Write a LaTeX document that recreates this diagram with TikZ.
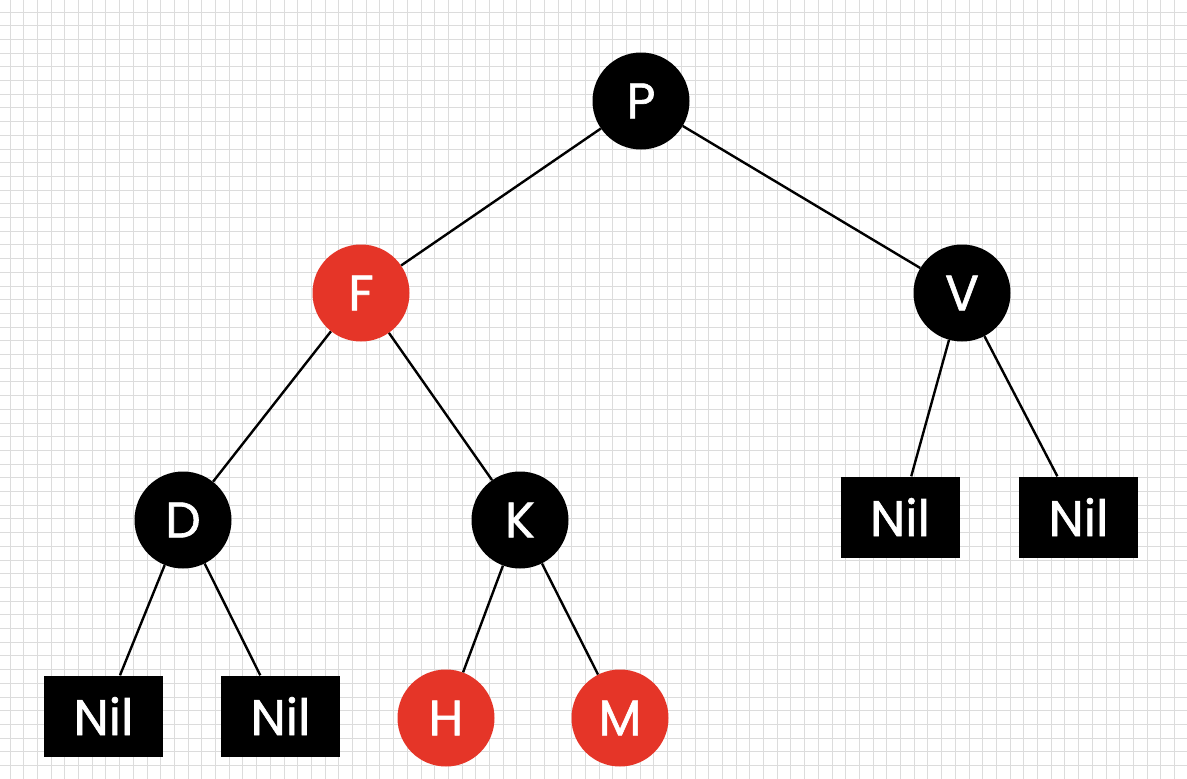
\documentclass[tikz,border=0pt]{standalone}
\usepackage{fontspec}
\setmainfont{Poppins}
\newfontfamily\nodefont{Poppins}[FakeBold=1.2]
\definecolor{rbred}{HTML}{E53528}
\definecolor{gridgray}{HTML}{DCDCDC}
\begin{document}
\begin{tikzpicture}[x=1pt,y=-1pt,
  blk/.style={circle,fill=black,minimum size=97pt,inner sep=0pt,text=white,font=\nodefont\fontsize{50}{56}\selectfont},
  red/.style={circle,fill=rbred,minimum size=97pt,inner sep=0pt,text=white,font=\nodefont\fontsize{50}{56}\selectfont},
  nil/.style={rectangle,fill=black,minimum width=119pt,minimum height=81pt,inner sep=0pt,text=white,font=\nodefont\fontsize{50}{56}\selectfont},
  edge/.style={draw=black,line width=2.4pt}]
\useasboundingbox (0,0) rectangle (1187,779);
\fill[white] (0,0) rectangle (1187,779);
\foreach \i in {0,...,86} {
  \draw[gridgray,line width=1pt] ({10+13.7*\i},0) -- ({10+13.7*\i},779);
}
\foreach \j in {0,...,56} {
  \draw[gridgray,line width=1pt] (0,{12+13.7*\j}) -- (1187,{12+13.7*\j});
}
\node[blk] (P) at (641,101) {P};
\node[red] (F) at (361,293) {F};
\node[blk] (V) at (962,293) {V};
\node[blk] (D) at (183,520) {D};
\node[blk] (K) at (520,520) {K};
\node[red] (H) at (446,718) {H};
\node[red] (M) at (620,718) {M};
\node[nil] (n1) at (103.5,716) {Nil};
\node[nil] (n2) at (280.5,716) {Nil};
\node[nil] (n3) at (900,517) {Nil};
\node[nil] (n4) at (1078.5,517) {Nil};
\draw[edge] (P) -- (F);
\draw[edge] (P) -- (V);
\draw[edge] (F) -- (D);
\draw[edge] (F) -- (K);
\draw[edge] (V) -- (n3);
\draw[edge] (V) -- (n4);
\draw[edge] (D) -- (n1);
\draw[edge] (D) -- (n2);
\draw[edge] (K) -- (H);
\draw[edge] (K) -- (M);
\end{tikzpicture}
\end{document}
